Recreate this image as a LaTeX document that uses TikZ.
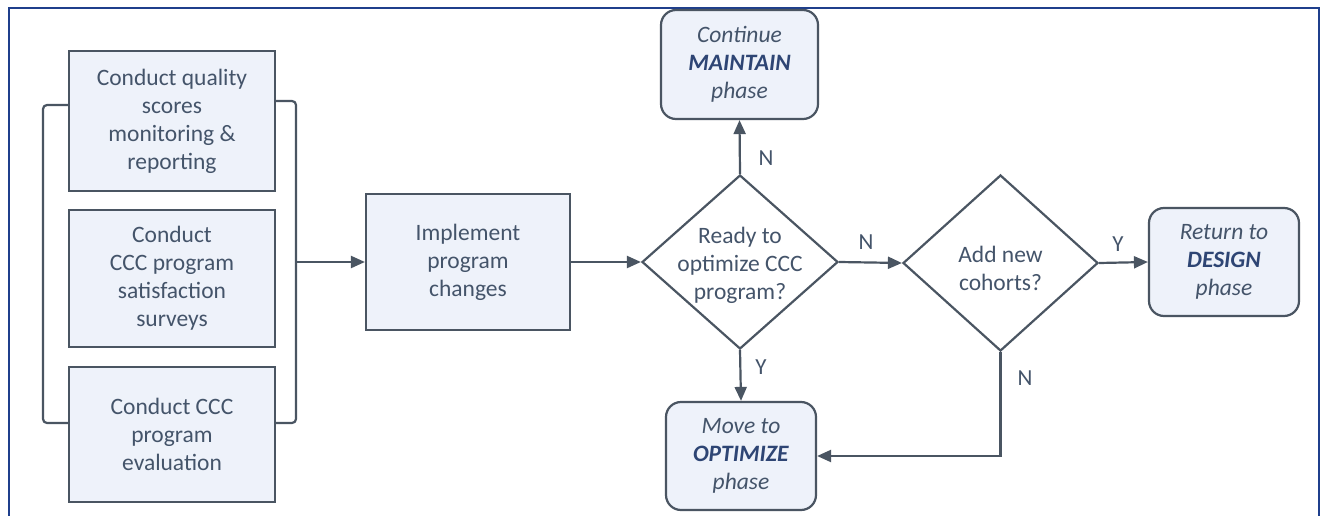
\documentclass[tikz,border=0pt]{standalone}
\usepackage{fontspec}
\setmainfont{Carlito}
\usetikzlibrary{arrows.meta,shapes.geometric}
\definecolor{txt}{HTML}{44546A}
\definecolor{edge}{HTML}{4A5562}
\definecolor{boxfill}{HTML}{EEF2FA}
\definecolor{emphc}{HTML}{2E4574}
\definecolor{framec}{HTML}{1F3F8C}
\begin{document}
\begin{tikzpicture}[x=1pt,y=-1pt,
  every node/.style={font=\fontsize{23.5}{28}\selectfont, text=txt, align=center},
  task/.style={draw=edge, line width=2.2pt, fill=boxfill, rectangle, inner sep=0pt},
  phase/.style={task, rounded corners=15pt},
  decision/.style={draw=edge, line width=2.2pt, fill=white, diamond, inner sep=0pt},
  lbl/.style={font=\fontsize{23}{26}\selectfont},
  link/.style={draw=edge, line width=2.2pt},
  arr/.style={link, -{Triangle[length=14pt,width=12pt]}},
  bkt/.style={link, rounded corners=4pt}]
\useasboundingbox (0,0) rectangle (1327,516);
\fill[white] (0,0) rectangle (1327,516);
% outer frame, open at the bottom
\draw[framec, line width=2.5pt] (9,516) -- (9,8) -- (1319,8) -- (1319,516);

% activity boxes
\node[task, minimum width=206pt, minimum height=140pt] (b1) at (172,121)
  {Conduct quality\\scores\\monitoring \&\\reporting};
\node[task, minimum width=206pt, minimum height=137pt] (b2) at (172,278.5)
  {Conduct\\CCC program\\satisfaction\\surveys};
\node[task, minimum width=206pt, minimum height=135pt] (b3) at (172,434.5)
  {Conduct CCC\\program\\evaluation};
\node[task, minimum width=204pt, minimum height=136pt] (impl) at (468,262)
  {Implement\\program\\changes};

% decisions
\node[decision, minimum width=196pt, minimum height=174pt, aspect=1.126] (d1) at (740,262) {};
\node at (740,265) {Ready to\\optimize CCC\\program?};
\node[decision, minimum width=195pt, minimum height=176pt, aspect=1.108] (d2) at (1000.5,263) {};
\node at (1000.5,268) {Add new\\cohorts?};

% phase outcomes
\node[phase, minimum width=157pt, minimum height=109pt] (maint) at (739.5,64.5)
  {\textit{Continue}\\\textcolor{emphc}{\textbf{\textit{MAINTAIN}}}\\\textit{phase}};
\node[phase, minimum width=150pt, minimum height=108pt] (opt) at (741,456)
  {\textit{Move to}\\\textcolor{emphc}{\textbf{\textit{OPTIMIZE}}}\\\textit{phase}};
\node[phase, minimum width=150pt, minimum height=108pt] (design) at (1224,262)
  {\textit{Return to}\\\textcolor{emphc}{\textbf{\textit{DESIGN}}}\\\textit{phase}};

% brackets grouping the three activities
\coordinate (lb) at (43,262);
\coordinate (rb) at (296,262);
\draw[bkt] ([yshift=16pt]b1.west) -| (lb) |- ([yshift=11.5pt]b3.west);
\draw[bkt] ([yshift=20pt]b1.east) -| (rb) |- ([yshift=11.5pt]b3.east);

% flow
\draw[arr] (rb) -- (impl.west);
\draw[arr] (impl.east) -- (d1.west);
\draw[arr] (d1.north) -- (maint.south);
\draw[arr] (d1.south) -- (opt.north);
\draw[arr] (d1.east) -- (d2.west);
\draw[arr] (d2.east) -- (design.west);
\draw[arr] (d2.south) |- (opt.east);

% branch labels
\node[lbl] at (766,158) {N};
\node[lbl] at (761,367) {Y};
\node[lbl] at (866,242) {N};
\node[lbl] at (1118,244) {Y};
\node[lbl] at (1025,378) {N};
\end{tikzpicture}
\end{document}
